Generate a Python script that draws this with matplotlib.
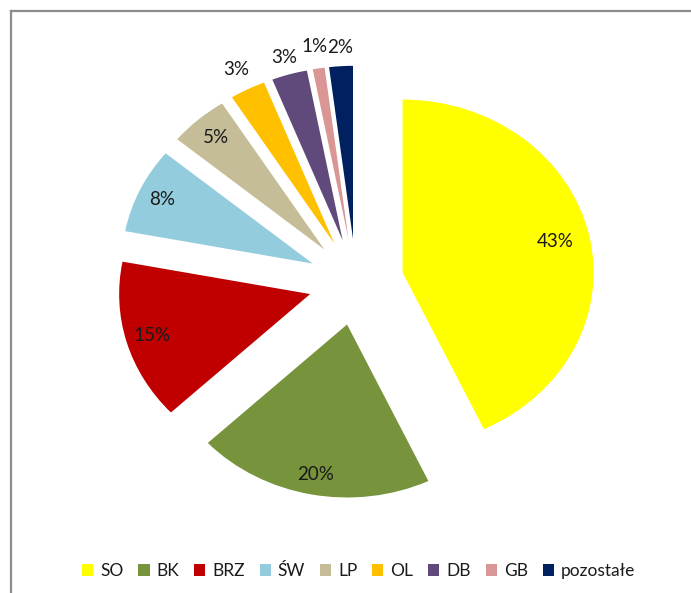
import matplotlib
matplotlib.use("Agg")
import matplotlib.pyplot as plt
from matplotlib.patches import Patch
from matplotlib.lines import Line2D
import numpy as np

categories = ["SO", "BK", "BRZ", "ŚW", "LP", "OL", "DB", "GB", "pozostałe"]
values = [43, 20, 15, 8, 5, 3, 3, 1, 2]
colors = ["#FFFF00", "#77933C", "#C00000", "#93CDDD", "#C4BD97",
          "#FFC000", "#604A7B", "#D99694", "#002060"]
label_dist = [0.82, 0.88, 0.86, 0.87, 0.86, 1.13, 1.10, 1.13, 1.11]

plt.rcParams['font.family'] = ['Lato', 'DejaVu Sans']

W, H = 691, 593
fig = plt.figure(figsize=(W / 100, H / 100), dpi=100)
ax = fig.add_axes([0, 0, 1, 1])

cx, cy, rx, ry = 356, 282, 191, 173
wedges, _ = ax.pie(values, colors=colors, startangle=90, counterclock=False,
                   explode=[0.25] * len(values), radius=1.0)
ax.set_aspect('auto')
ax.set_xlim(-cx / rx, (W - cx) / rx)
ax.set_ylim((cy - H) / ry, cy / ry)
ax.axis('off')

for w, v, d in zip(wedges, values, label_dist):
    mid = np.deg2rad((w.theta1 + w.theta2) / 2)
    x0, y0 = w.center
    ax.text(x0 + d * np.cos(mid), y0 + d * np.sin(mid), f"{v:.0f}%",
            ha='center', va='center', fontsize=13.5, color='#1a1a1a')

handles = [Patch(facecolor=c, edgecolor='none') for c in colors]
fig.legend(handles, categories, loc='center', bbox_to_anchor=(358.5 / W, 1 - 571 / H),
           ncol=len(categories), frameon=False, handlelength=0.65, handleheight=0.65,
           handletextpad=0.4, columnspacing=0.85, fontsize=12.5,
           labelcolor='#1a1a1a')

# chart-area border (top and left visible)
bx, by = 11 / W, 1 - 11 / H
fig.add_artist(Line2D([bx, 1], [by, by], transform=fig.transFigure, color='#8c8c8c', lw=1.6))
fig.add_artist(Line2D([bx, bx], [by, 0], transform=fig.transFigure, color='#8c8c8c', lw=1.6))

fig.savefig("out.png", dpi=100)
